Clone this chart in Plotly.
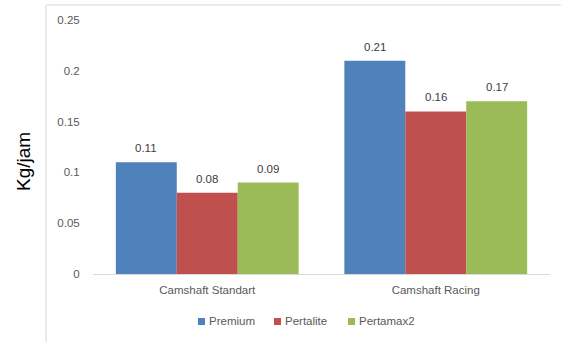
import plotly.graph_objects as go

categories = ["Camshaft Standart", "Camshaft Racing"]
series_names = ["Premium", "Pertalite", "Pertamax2"]
premium = [0.11, 0.21]
pertalite = [0.08, 0.16]
pertamax2 = [0.09, 0.17]
colors = ["#4F81BD", "#C0504D", "#9BBB59"]
y_ticks = [0, 0.05, 0.1, 0.15, 0.2, 0.25]
y_ticktext = ["0", "0.05", "0.1", "0.15", "0.2", "0.25"]

W, H = 561, 342
L, R, T, B = 93, 11, 20, 68
pw, ph = W - L - R, H - T - B
FONT = "Liberation Sans"

fig = go.Figure()
all_vals = [premium, pertalite, pertamax2]
for name, vals, c in zip(series_names, all_vals, colors):
    fig.add_trace(go.Bar(
        x=categories, y=vals, name=name, marker=dict(color=c, line=dict(width=0)),
        showlegend=False,
    ))

# data labels above bars
bar_px = pw / len(categories) * 0.8 / len(series_names)
for i, vals in enumerate(all_vals):
    off = (i - (len(series_names) - 1) / 2) * bar_px
    for cat, v in zip(categories, vals):
        fig.add_annotation(x=cat, y=v, text=f"{v:g}", showarrow=False,
                           xshift=off, yshift=14, yanchor="middle",
                           font=dict(size=11.5, color="#404040", family=FONT))

fig.update_layout(
    width=W, height=H, margin=dict(l=L, r=R, t=T, b=B),
    paper_bgcolor="white", plot_bgcolor="white",
    barmode="group", bargap=0.2, bargroupgap=0,
    font=dict(family=FONT, size=11, color="#595959"),
    xaxis=dict(showline=True, linecolor="#D9D9D9", linewidth=1, ticks="outside",
               ticklen=5, tickcolor="rgba(0,0,0,0)", showgrid=False,
               tickfont=dict(size=11.5, color="#595959")),
    yaxis=dict(range=[0, 0.25], tickvals=y_ticks, ticktext=y_ticktext,
               showgrid=False, zeroline=False, showline=False,
               ticks="outside", ticklen=10, tickcolor="rgba(0,0,0,0)",
               tickfont=dict(size=11.5, color="#595959")),
    showlegend=False,
)

# chart area border (left and top visible)
fig.add_shape(type="rect", xref="paper", yref="paper",
              x0=(46 - L) / pw, x1=(W + 20 - L) / pw,
              y0=(H - B - (H + 20)) / ph, y1=(H - B - 5) / ph,
              line=dict(color="#D9D9D9", width=1), fillcolor="rgba(0,0,0,0)", layer="below")

# manual compact legend
legend_x = [198, 274, 348]
ly = 321
for name, c, lx in zip(series_names, colors, legend_x):
    fig.add_shape(type="rect", xref="paper", yref="paper",
                  x0=(lx - L) / pw, x1=(lx + 7 - L) / pw,
                  y0=(H - B - (ly + 4)) / ph, y1=(H - B - (ly - 3)) / ph,
                  line=dict(width=0), fillcolor=c)
    fig.add_annotation(text=name, xref="paper", yref="paper",
                       x=(lx + 9 - L) / pw, y=(H - B - ly) / ph,
                       xanchor="left", yanchor="middle", showarrow=False,
                       font=dict(size=11.5, color="#595959", family=FONT))

fig.add_annotation(text="Kg/jam", xref="paper", yref="paper",
                   x=(23 - L) / pw, y=(H - B - 162) / ph, textangle=-90,
                   showarrow=False, font=dict(size=19, color="#000000", family=FONT),
                   xanchor="center", yanchor="middle")

fig.write_html("out.html")
